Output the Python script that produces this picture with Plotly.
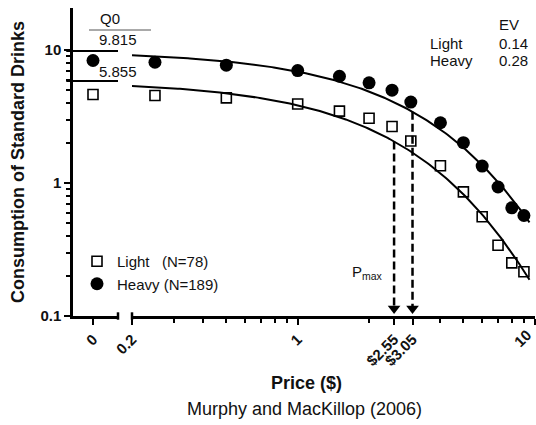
import numpy as np
import plotly.graph_objects as go

# ---- data -------------------------------------------------------------
prices = [0.25, 0.5, 1, 1.5, 2, 2.5, 3, 4, 5, 6, 7, 8, 9]
light_free = 4.63          # consumption when drinks are free ($0)
heavy_free = 8.34
light_cons = [4.55, 4.37, 3.93, 3.47, 3.07, 2.66, 2.07, 1.35, 0.858, 0.557, 0.340, 0.251, 0.215]
heavy_cons = [8.09, 7.69, 7.01, 6.35, 5.67, 4.99, 4.06, 2.84, 2.01, 1.34, 0.933, 0.651, 0.570]

groups = ["Light", "Heavy"]
q0 = {"Light": 5.855, "Heavy": 9.815}
ev = {"Light": 0.14, "Heavy": 0.28}
pmax = {"Light": 2.55, "Heavy": 3.05}
k_range = 5.0

x_ticks_main = [0.2, 1, 2.55, 3.05, 10]
x_ticktext_main = ["0.2", "1", "$2.55", "$3.05", ""]   # the "10" is placed separately at the edge
x_minor = [0.3, 0.4, 0.5, 0.6, 0.7, 0.8, 0.9, 2, 4, 5, 6, 7, 8, 9]
y_ticks = [0.1, 1, 10]
y_ticktext = ["0.1", "1", "10"]
y_minor = [0.2, 0.3, 0.4, 0.5, 0.6, 0.7, 0.8, 0.9, 2, 3, 4, 5, 6, 7, 8, 9]


# exponential demand curve, alpha derived from essential value
def demand(c, g):
    alpha = 1.0 / (100 * ev[g] * k_range ** 1.5)
    return 10 ** (np.log10(q0[g]) + k_range * (np.exp(-alpha * q0[g] * c) - 1))


FONT = "Liberation Sans, Arial, Helvetica, sans-serif"
W, H = 536, 425
ML, MR, MT, MB = 73, 1, 8, 109
PW, PH = W - ML - MR, H - MT - MB


def px(xp):
    return (xp - ML) / PW


def py(yp):
    return (H - MB - yp) / PH


fig = go.Figure()

c_grid = np.logspace(np.log10(0.2), np.log10(9.5), 200)
for g in groups:
    fig.add_trace(go.Scatter(x=c_grid, y=demand(c_grid, g), mode="lines",
                             line=dict(color="black", width=2),
                             xaxis="x2", yaxis="y", showlegend=False,
                             hoverinfo="skip"))

# free-price points on the short left segment
fig.add_trace(go.Scatter(x=[0], y=[light_free], mode="markers", xaxis="x", yaxis="y",
                         marker=dict(symbol="square-open", size=10, color="black",
                                     line=dict(width=1.6)), showlegend=False))
fig.add_trace(go.Scatter(x=[0], y=[heavy_free], mode="markers", xaxis="x", yaxis="y",
                         marker=dict(symbol="circle", size=13, color="black"),
                         showlegend=False))

fig.add_trace(go.Scatter(x=prices, y=light_cons, mode="markers", xaxis="x2", yaxis="y",
                         name="Light\u00a0\u00a0\u00a0(N=78)",
                         marker=dict(symbol="square-open", size=10, color="black",
                                     line=dict(width=1.6))))
fig.add_trace(go.Scatter(x=prices, y=heavy_cons, mode="markers", xaxis="x2", yaxis="y",
                         name="Heavy (N=189)",
                         marker=dict(symbol="circle", size=13, color="black")))

# Pmax drop lines with arrowheads
for g in groups:
    p = pmax[g]
    fig.add_trace(go.Scatter(x=[p, p], y=[demand(p, g), 0.118], mode="lines",
                             line=dict(color="black", width=2.5, dash="8px,4px"),
                             xaxis="x2", yaxis="y", showlegend=False, hoverinfo="skip"))
    fig.add_trace(go.Scatter(x=[p], y=[0.114], mode="markers",
                             marker=dict(symbol="triangle-down", size=11, color="black"),
                             xaxis="x2", yaxis="y", showlegend=False, hoverinfo="skip"))

shapes = []
# Q0 reference lines
for g in groups:
    shapes.append(dict(type="line", xref="x domain", yref="y", x0=-0.15, x1=1,
                       y0=q0[g], y1=q0[g], line=dict(color="black", width=2)))
# axis-break caps
shapes.append(dict(type="line", xref="x domain", yref="paper", x0=1, x1=1,
                   y0=-0.012, y1=0.012, line=dict(color="black", width=2.5)))
shapes.append(dict(type="line", xref="x2 domain", yref="paper", x0=0, x1=0,
                   y0=-0.012, y1=0.012, line=dict(color="black", width=2.5)))
# rule under the Q0 heading
shapes.append(dict(type="line", xref="paper", yref="paper", x0=px(89), x1=px(151),
                   y0=py(30), y1=py(30), line=dict(color="#555", width=1)))

annots = []


def text(s, xp, yp, size=15, xanchor="left", bold=False, angle=0):
    annots.append(dict(text=s, x=px(xp), y=py(yp), xref="paper", yref="paper",
                       xanchor=xanchor, yanchor="middle", showarrow=False,
                       textangle=angle,
                       font=dict(family=FONT, size=size, color="#111",
                                 weight="bold" if bold else "normal")))


text("Q0", 110, 19, xanchor="center")
text(f"{q0['Heavy']:.3f}", 118, 39, xanchor="center")
text(f"{q0['Light']:.3f}", 118, 72, xanchor="center")
text("EV", 497, 24)
text("Light", 428, 43)
text(f"{ev['Light']:.2f}", 497, 43)
text("Heavy", 428, 61)
text(f"{ev['Heavy']:.2f}", 497, 61)
text("P<sub>max</sub>", 367, 272, xanchor="center")
text("10", 522, 338, xanchor="center", bold=True, angle=-45)
text("Price ($)", 306, 383, size=18, xanchor="center", bold=True)
text("Murphy and MacKillop (2006)", 304, 409, size=18, xanchor="center")

tickfont = dict(family=FONT, size=15, color="#111", weight="bold")
axis_common = dict(showline=True, linecolor="black", linewidth=2.5, ticks="outside",
                   tickcolor="black", tickwidth=2, ticklen=6, showgrid=False,
                   zeroline=False, tickfont=tickfont, fixedrange=True,
                   automargin=False)

fig.update_layout(
    width=W, height=H,
    margin=dict(l=ML, r=MR, t=MT, b=MB, pad=0, autoexpand=False),
    paper_bgcolor="white", plot_bgcolor="white",
    font=dict(family=FONT, color="#111"),
    xaxis=dict(domain=[0, px(118)], range=[-0.2, 0.25], tickmode="array",
               tickvals=[0], ticktext=["0"], tickangle=-45, anchor="y", **axis_common),
    xaxis2=dict(domain=[px(132), 1], type="log", range=[np.log10(0.2), 1.001],
                tickmode="array", tickvals=x_ticks_main, ticktext=x_ticktext_main,
                tickangle=-45, anchor="y",
                minor=dict(tickmode="array", tickvals=x_minor, ticks="outside",
                           ticklen=4, tickwidth=2, tickcolor="black", showgrid=False),
                **axis_common),
    yaxis=dict(type="log", range=[-1, 1.316], tickmode="array", tickvals=y_ticks,
               ticktext=y_ticktext, anchor="x",
               title=dict(text="Consumption of Standard Drinks", standoff=12,
                          font=dict(family=FONT, size=18, color="#111", weight="bold")),
               minor=dict(tickmode="array", tickvals=y_minor, ticks="outside",
                          ticklen=4, tickwidth=2, tickcolor="black", showgrid=False),
               **axis_common),
    legend=dict(x=px(77), y=py(245), xanchor="left", yanchor="top",
                bgcolor="rgba(0,0,0,0)", borderwidth=0,
                font=dict(family=FONT, size=15, color="#111"),
                itemclick=False, tracegroupgap=0),
    shapes=shapes, annotations=annots, showlegend=True,
)

fig.write_html("out.html", config={"displayModeBar": False})
